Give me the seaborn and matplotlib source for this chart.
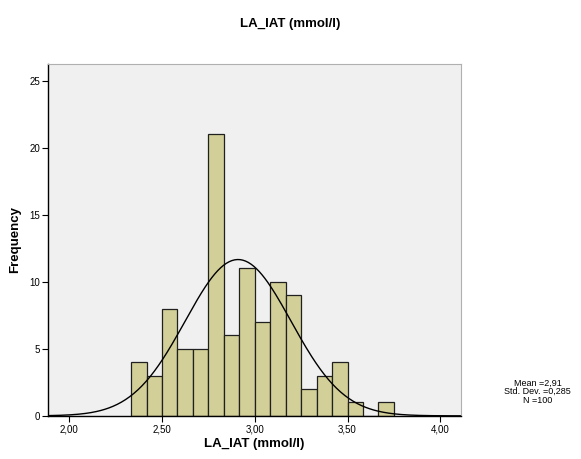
import numpy as np
import pandas as pd
import seaborn as sns
import matplotlib.pyplot as plt

# histogram bins (width 1/12) and counts
bin_edges = [2.3333 + i / 12 for i in range(18)]
counts = [4, 3, 8, 5, 5, 21, 6, 11, 7, 10, 9, 2, 3, 4, 1, 0, 1]
mean, sd, n = 2.91, 0.285, 100
x_ticks = [2.0, 2.5, 3.0, 3.5, 4.0]
x_labels = ['2,00', '2,50', '3,00', '3,50', '4,00']
y_ticks = [0, 5, 10, 15, 20, 25]

sns.set_theme(style='ticks')
plt.rcParams['font.family'] = ['Liberation Sans', 'DejaVu Sans']
plt.rcParams.update({'text.color': 'black', 'axes.labelcolor': 'black',
                     'xtick.color': 'black', 'ytick.color': 'black'})

df = pd.DataFrame({
    'mid': [(bin_edges[i] + bin_edges[i + 1]) / 2 for i in range(len(counts))],
    'count': counts,
})

fig = plt.figure(figsize=(5.81, 4.59), dpi=100)
ax = fig.add_axes([0.083, 0.094, 0.71, 0.767])
ax.set_facecolor('#F0F0F0')

sns.histplot(data=df, x='mid', weights='count', bins=bin_edges, ax=ax,
             color='#D3CF98', edgecolor='#202020', linewidth=0.9, alpha=1)

# fitted normal curve
bw = bin_edges[1] - bin_edges[0]
xs = np.linspace(1.887, 4.11, 300)
ys = n * bw * np.exp(-0.5 * ((xs - mean) / sd) ** 2) / (sd * np.sqrt(2 * np.pi))
sns.lineplot(x=xs, y=ys, ax=ax, color='black', linewidth=1.0)

ax.set_xlim(1.887, 4.11)
ax.set_ylim(0, 26.27)
ax.set_xticks(x_ticks)
ax.set_xticklabels(x_labels)
ax.set_yticks(y_ticks)
ax.tick_params(labelsize=7, length=4, width=0.8, color='black', pad=2)

for side in ['left', 'bottom']:
    ax.spines[side].set_color('black')
    ax.spines[side].set_linewidth(1.0)
for side in ['top', 'right']:
    ax.spines[side].set_visible(True)
    ax.spines[side].set_color('#B0B0B0')
    ax.spines[side].set_linewidth(0.8)

ax.set_xlabel('LA_IAT (mmol/l)', fontsize=9.5, fontweight='bold', labelpad=3)
ax.set_ylabel('Frequency', fontsize=9.5, fontweight='bold', labelpad=6)
fig.text(0.5, 0.948, 'LA_IAT (mmol/l)', ha='center', va='center',
         fontsize=9.5, fontweight='bold')

fig.text(0.925, 0.147, 'Mean =2,91\nStd. Dev. =0,285\nN =100', ha='center',
         va='center', fontsize=6.5, linespacing=0.95)

fig.savefig('out.png', dpi=100)
